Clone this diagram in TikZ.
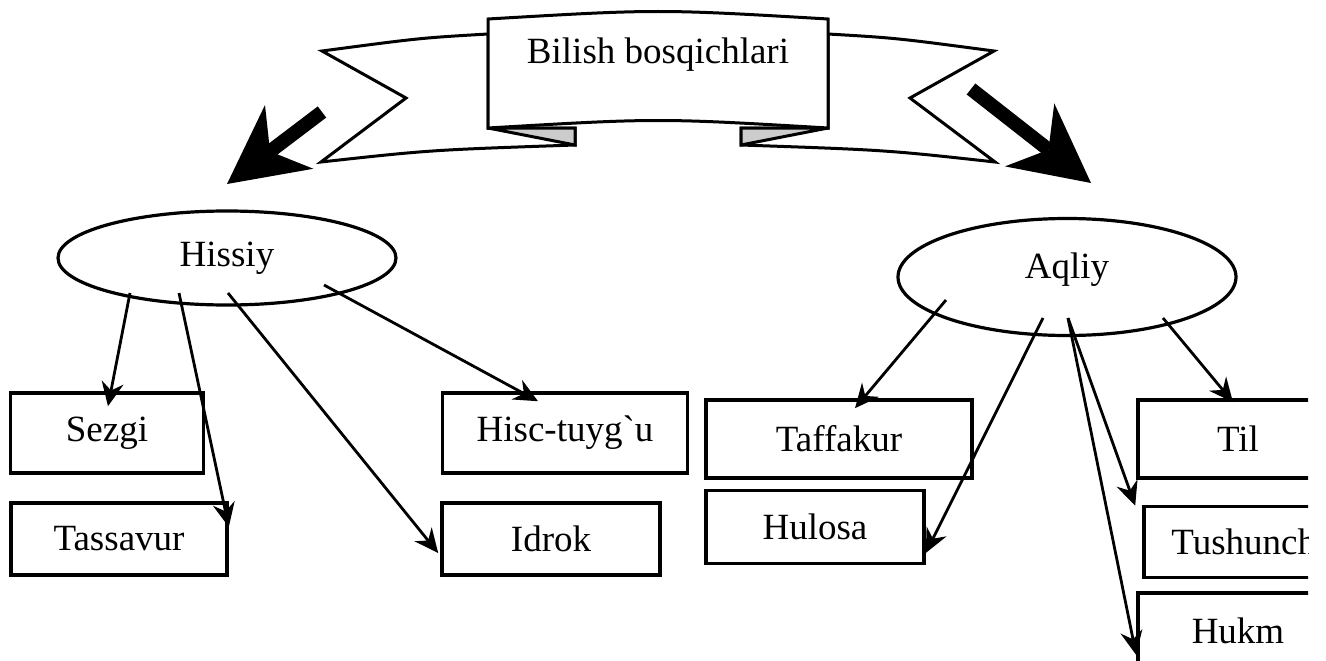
\documentclass[tikz,border=0pt]{standalone}
\usepackage{fontspec}
\setmainfont{Liberation Serif}[Ligatures=TeXOff]
\usetikzlibrary{positioning, arrows.meta, calc, shapes.geometric}

\begin{document}
\begin{tikzpicture}[
    x=1pt, y=-1pt,
    font=\fontsize{37}{40}\selectfont,
    ribbon/.style={draw, line width=3pt, fill=white, line join=miter},
    fold/.style={draw, line width=3pt, fill=black!20, line join=miter},
    bigarrow/.style={
        line width=14pt,
        -{Stealth[length=78pt, width=80pt, inset=24pt, line width=0pt]},
    },
    stage/.style={
        draw, ellipse, line width=3.2pt, inner sep=0pt,
        minimum width=338pt, minimum height=94pt,
    },
    box/.style={draw, line width=3.6pt, inner sep=0pt, minimum height=78pt},
    link/.style={line width=2.8pt, -{Stealth[length=24pt, width=22pt, inset=8pt]}},
]

\useasboundingbox (0,0) rectangle (1326,661);
\clip (0,0) rectangle (1308,661);

% banner
\draw[ribbon] (488,34) .. controls (420,38) .. (322,51) -- (406,98) -- (321,162)
    .. controls (430,150) .. (575,145) -- (575,128) -- (488,128) -- cycle;
\draw[ribbon] (828,34) .. controls (896,38) .. (994,51) -- (910,98) -- (995,162)
    .. controls (886,150) .. (741,145) -- (741,128) -- (828,128) -- cycle;
\draw[fold] (488,128) -- (575,145) -- (575,128) -- cycle;
\draw[fold] (828,128) -- (741,145) -- (741,128) -- cycle;
\draw[ribbon] (488,19) .. controls (658,9) .. (828,19) -- (828,128)
    .. controls (658,118) .. (488,128) -- cycle;
\node (title) at (658,55) {Bilish bosqichlari};

% big arrows
\coordinate (ltail) at (322,112);
\coordinate (lhead) at (227,184);
\coordinate (rtail) at (971,89);
\coordinate (rhead) at (1091,183);
\draw[bigarrow] (ltail) -- (lhead);
\draw[bigarrow] (rtail) -- (rhead);

% stages
\node[stage] (hissiy) at (227,258) {Hissiy};
\node[stage, minimum height=117pt, text depth=22pt] (aqliy) at (1067,277) {Aqliy};

% left boxes
\node[box, minimum width=193pt, minimum height=80pt] (sezgi) at (107,433) {Sezgi};
\node[box, minimum width=216pt, minimum height=72pt] (tassavur) at (119,539) {Tassavur};
\node[box, minimum width=245pt, minimum height=80pt] (hisc) at (565,433) {Hisc-tuyg`u};
\node[box, minimum width=218pt, minimum height=72pt] (idrok) at (551,539) {Idrok};

% right boxes
\node[box, minimum width=266pt] (taffakur) at (839,439) {Taffakur};
\node[box, minimum width=218pt, minimum height=73pt] (hulosa) at (815,527) {Hulosa};
\node[box, minimum width=200pt] (til) at (1238,439) {Til};
\node[box, minimum width=216pt, minimum height=71pt] (tushuncha) at (1252,542) {Tushuncha};
\node[box, minimum width=200pt, minimum height=76pt] (hukm) at (1238,631) {Hukm};

% links
\coordinate (h1) at (130,293);
\coordinate (h2) at (179,293);
\coordinate (h3) at (228,293);
\coordinate (h4) at (324,285);
\draw[link] (h1) -- ($(sezgi.north)+(1,15)$);
\draw[link] (h2) -- ($(tassavur.east)+(0,-12)$);
\draw[link] (h3) -- ($(idrok.west)+(-2,14)$);
\draw[link] (h4) -- ($(hisc.north)+(-27,10)$);

\coordinate (a1) at (946,300);
\coordinate (a2) at (1043,318);
\coordinate (a3) at (1068,318);
\coordinate (a4) at (1163,318);
\draw[link] (a1) -- ($(taffakur.north)+(16,10)$);
\draw[link] (a2) -- ($(hulosa.east)+(0,26)$);
\draw[link] (a3) -- ($(tushuncha.north west)+(-7,1)$);
\draw[link] (a3) -- ($(hukm.west)+(0,24)$);
\draw[link] (a4) -- ($(til.north)+(-5,4)$);

\end{tikzpicture}
\end{document}
